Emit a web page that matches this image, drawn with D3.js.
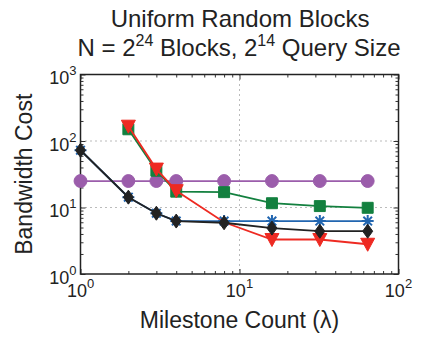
<!DOCTYPE html>
<html>
<head>
<meta charset="utf-8">
<script src="https://cdn.jsdelivr.net/npm/d3@7"></script>
<style>
  body { margin: 0; background: #fff; }
  text { font-family: "Liberation Sans", Arial, sans-serif; fill: #222; }
</style>
</head>
<body>
<div id="chart"></div>
<script>
let chart_width = 429;
let chart_height = 341;

// data
let milestones = [1, 2, 3, 4, 8, 16, 32, 64];
let purple_vals = [25, 25, 25, 25, 25, 25, 25, 25];
let green_vals = [null, 150, 35.7, 17.3, 17, 11.6, 10.5, 9.9];
let red_vals = [null, 167, 37.8, 17.9, 6.0, 3.3, 3.3, 2.8];
let red_marked = [false, true, true, true, false, true, true, true]; // no marker visible at 8
let blue_vals = [72.6, 14.3, 8.2, 6.25, 6.25, 6.25, 6.25, 6.25];
let black_vals = [72.6, 14.3, 8.2, 6.25, 5.9, 4.9, 4.4, 4.4];
let x_ticks = [1, 10, 100];
let y_ticks = [1, 10, 100, 1000];

let margin = { top: 74.5, right: 30.5, bottom: 67, left: 80.5 };
let w = chart_width - margin.left - margin.right;
let h = chart_height - margin.top - margin.bottom;

let svg = d3.select("#chart").append("svg")
  .attr("width", chart_width)
  .attr("height", chart_height);

let x = d3.scaleLog().domain([1, 100]).range([0, w]);
let y = d3.scaleLog().domain([1, 1000]).range([h, 0]);

let g = svg.append("g").attr("transform", "translate(" + margin.left + "," + margin.top + ")");

// dotted grid at the decades
g.selectAll(".gy").data([10, 100]).enter().append("line")
  .attr("x1", 0).attr("x2", w)
  .attr("y1", d => y(d)).attr("y2", d => y(d))
  .attr("stroke", "#777").attr("stroke-width", 1).attr("stroke-dasharray", "1,4");
g.selectAll(".gx").data([10]).enter().append("line")
  .attr("y1", 0).attr("y2", h)
  .attr("x1", d => x(d)).attr("x2", d => x(d))
  .attr("stroke", "#777").attr("stroke-width", 1).attr("stroke-dasharray", "1,4");

// inward ticks on all four sides
let minor_x = [];
for (let e = 1; e < 100; e *= 10) for (let k = 1; k < 10; k++) minor_x.push(k * e);
minor_x.push(100);
let minor_y = [];
for (let e = 1; e < 1000; e *= 10) for (let k = 1; k < 10; k++) minor_y.push(k * e);
minor_y.push(1000);
let is_major = d => Math.abs(Math.log10(d) - Math.round(Math.log10(d))) < 1e-9;

g.append("g").attr("transform", "translate(0," + h + ")")
  .call(d3.axisBottom(x).tickValues(minor_x).tickSize(-3).tickFormat(""));
g.append("g")
  .call(d3.axisTop(x).tickValues(minor_x).tickSize(-3).tickFormat(""));
g.append("g")
  .call(d3.axisLeft(y).tickValues(minor_y).tickSize(-3).tickFormat(""));
g.append("g").attr("transform", "translate(" + w + ",0)")
  .call(d3.axisRight(y).tickValues(minor_y).tickSize(-3).tickFormat(""));
g.selectAll(".tick line").attr("stroke", "#333")
  .attr("y2", function (d) {
    let v = d3.select(this).attr("y2");
    return v !== null && is_major(d) ? (+v > 0 ? 5 : -5) : v;
  })
  .attr("x2", function (d) {
    let v = d3.select(this).attr("x2");
    return v !== null && is_major(d) ? (+v > 0 ? 5 : -5) : v;
  });
g.selectAll(".domain").remove();

// frame
g.append("rect").attr("width", w).attr("height", h)
  .attr("fill", "none").attr("stroke", "#222").attr("stroke-width", 1.5);

// tick labels 10^n
let xl = g.selectAll(".xl").data(x_ticks).enter().append("text")
  .attr("x", d => x(d)).attr("y", h + 23)
  .attr("text-anchor", "middle").style("font-size", "18px");
xl.append("tspan").text("10");
xl.append("tspan").attr("dy", -9).style("font-size", "13px").text(d => Math.round(Math.log10(d)));

let yl = g.selectAll(".yl").data(y_ticks).enter().append("text")
  .attr("x", -4).attr("y", d => y(d) + 9.5)
  .attr("text-anchor", "end").style("font-size", "18px");
yl.append("tspan").text("10");
yl.append("tspan").attr("dy", -9).style("font-size", "13px").text(d => Math.round(Math.log10(d)));

// axis titles
svg.append("text")
  .attr("x", margin.left + w / 2).attr("y", 328)
  .attr("text-anchor", "middle").style("font-size", "23px")
  .text("Milestone Count (λ)");
svg.append("text")
  .attr("transform", "translate(32," + (margin.top + h / 2) + ") rotate(-90)")
  .attr("text-anchor", "middle").style("font-size", "23px")
  .text("Bandwidth Cost");

// title
svg.append("text")
  .attr("x", 240).attr("y", 27)
  .attr("text-anchor", "middle").style("font-size", "24px")
  .text("Uniform Random Blocks");
let t2 = svg.append("text")
  .attr("x", 239).attr("y", 56)
  .attr("text-anchor", "middle").style("font-size", "24px");
t2.append("tspan").text("N = 2");
t2.append("tspan").attr("dy", -10).style("font-size", "16px").text("24");
t2.append("tspan").attr("dy", 10).text(" Blocks, 2");
t2.append("tspan").attr("dy", -10).style("font-size", "16px").text("14");
t2.append("tspan").attr("dy", 10).text(" Query Size");

// series
let series = [
  { vals: purple_vals, color: "#9b5dab", marker: "circle" },
  { vals: green_vals, color: "#13803f", marker: "square" },
  { vals: red_vals, color: "#ee2a22", marker: "triangle", marked: red_marked },
  { vals: blue_vals, color: "#2266b0", marker: "asterisk" },
  { vals: black_vals, color: "#222222", marker: "diamond" }
];

let line = d3.line()
  .defined(d => d.v !== null)
  .x(d => x(d.m))
  .y(d => y(d.v));

let symbols = {
  circle: d3.symbol().type(d3.symbolCircle).size(130)(),
  square: d3.symbol().type(d3.symbolSquare).size(120)(),
  triangle: "M-7,-6L7,-6L0,7Z",
  diamond: "M0,-7L5,0L0,7L-5,0Z",
  asterisk: "M-6,0L6,0M0,-6L0,6M-4.3,-4.3L4.3,4.3M-4.3,4.3L4.3,-4.3"
};

let plot = g.append("g");
series.forEach(function (s) {
  let pts = milestones.map((m, i) => ({ m: m, v: s.vals[i], mk: s.marked ? s.marked[i] : true }));
  let sg = plot.append("g");
  sg.append("path")
    .attr("d", line(pts))
    .attr("fill", "none")
    .attr("stroke", s.color)
    .attr("stroke-width", 1.8);
  sg.selectAll("path.mk").data(pts.filter(d => d.v !== null && d.mk)).enter().append("path")
    .attr("class", "mk")
    .attr("transform", d => "translate(" + x(d.m) + "," + y(d.v) + ")")
    .attr("d", symbols[s.marker])
    .attr("fill", s.marker === "asterisk" ? "none" : s.color)
    .attr("stroke", s.color)
    .attr("stroke-width", s.marker === "asterisk" ? 2 : 1);
});
</script>
</body>
</html>
